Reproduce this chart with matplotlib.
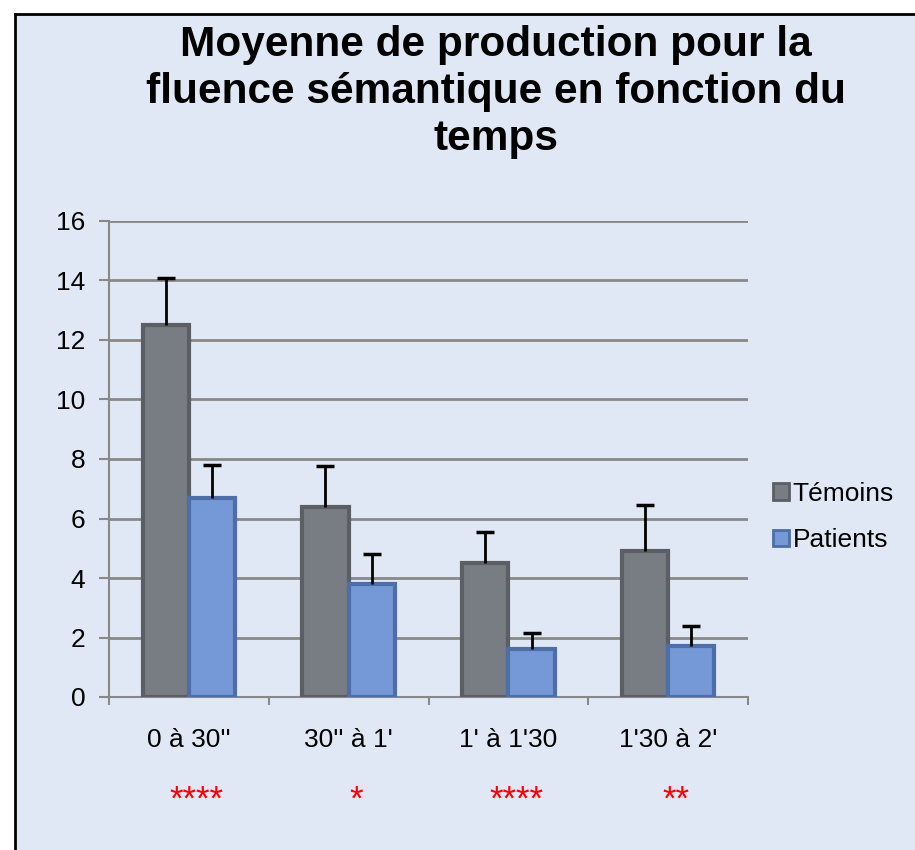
import matplotlib
matplotlib.use("Agg")
import matplotlib.pyplot as plt
import numpy as np
from matplotlib.patches import Rectangle
from matplotlib.lines import Line2D
from matplotlib.transforms import blended_transform_factory

categories = ["0 à 30''", "30'' à 1'", "1' à 1'30", "1'30 à 2'"]
temoins = [12.5, 6.4, 4.5, 4.9]
temoins_err = [1.6, 1.35, 1.05, 1.55]
patients = [6.7, 3.8, 1.6, 1.7]
patients_err = [1.1, 1.0, 0.55, 0.7]
stars = ["****", "*", "****", "**"]
yticks = [0, 2, 4, 6, 8, 10, 12, 14, 16]

plt.rcParams['font.family'] = ['Liberation Sans', 'DejaVu Sans']

fig = plt.figure(figsize=(9.15, 8.5), dpi=100)
fig.patch.set_facecolor('white')
bg = '#E1E8F5'
fig.patches.append(Rectangle((16/915, 0), 1 - 16/915, 1 - 14/850, transform=fig.transFigure,
                             facecolor=bg, edgecolor='none', zorder=-5))
fig.lines.append(Line2D([15.5/915, 15.5/915], [0, 1 - 13.5/850], transform=fig.transFigure, color='black', lw=2, zorder=-4))
fig.lines.append(Line2D([15.5/915, 1], [1 - 13.5/850, 1 - 13.5/850], transform=fig.transFigure, color='black', lw=2, zorder=-4))

ax = fig.add_axes([109/915, 1 - 697/850, (748 - 109)/915, (697 - 221)/850])
ax.set_facecolor('none')

x = np.arange(len(categories))
w = 0.29
grid_c = '#888888'
for yt in yticks[1:]:
    ax.axhline(yt, color=grid_c, lw=2, zorder=1)

t = np.array(temoins)
p = np.array(patients)
ax.bar(x - w/2, t, w, color='#787D84', edgecolor='#5B5F65', linewidth=3, zorder=3, label='Témoins')
ax.bar(x + w/2, p, w, color='#7599D7', edgecolor='#4E6EA8', linewidth=3, zorder=3, label='Patients')
for xs, vals, errs in [(x - w/2, t, np.array(temoins_err)), (x + w/2, p, np.array(patients_err))]:
    ax.errorbar(xs, vals, yerr=[np.zeros(len(vals)), errs], fmt='none', ecolor='black', elinewidth=2, capsize=0, zorder=4)
    ax.plot(xs, vals + errs, ls='none', marker='_', markersize=13, markeredgewidth=2.5, color='black', zorder=4)

ax.set_xlim(-0.5, len(categories) - 0.5)
ax.set_ylim(0, 16)
ax.set_yticks(yticks)
ax.set_yticklabels([str(v) for v in yticks], fontsize=19)
ax.set_xticks(x)
ax.set_xticklabels(categories, fontsize=19)
ax.tick_params(axis='x', length=0, pad=22)
ax.set_xticks(np.arange(len(categories) + 1) - 0.5, minor=True)
ax.tick_params(axis='x', which='minor', length=6, width=1.5, color=grid_c, direction='out')
ax.tick_params(axis='y', length=7, width=1.5, color=grid_c, direction='out', pad=10)
for s in ['top', 'right']:
    ax.spines[s].set_visible(False)
ax.spines['left'].set_color(grid_c)
ax.spines['left'].set_linewidth(1.5)
ax.spines['bottom'].set_color(grid_c)
ax.spines['bottom'].set_linewidth(1.5)

trans = blended_transform_factory(ax.transData, fig.transFigure)
for xi, s in zip(x, stars):
    ax.text(xi + 0.05, 1 - 800/850, s, transform=trans, ha='center', va='center', color='red', fontsize=25)

fig.text(496/915, 1 - 92/850, "Moyenne de production pour la\nfluence sémantique en fonction du\ntemps",
         ha='center', va='center', fontsize=30.5, fontweight='bold', linespacing=1.22)

handles = [Rectangle((0, 0), 1, 1, facecolor='#787D84', edgecolor='#5B5F65', lw=2),
           Rectangle((0, 0), 1, 1, facecolor='#7599D7', edgecolor='#4E6EA8', lw=2)]
fig.legend(handles, ['Témoins', 'Patients'], loc='center left', bbox_to_anchor=(749/915, 1 - 517/850),
           frameon=False, fontsize=19, handlelength=0.6, handleheight=0.6, handletextpad=0.15, labelspacing=0.85)

fig.savefig('out.png', dpi=100, facecolor=fig.get_facecolor())
